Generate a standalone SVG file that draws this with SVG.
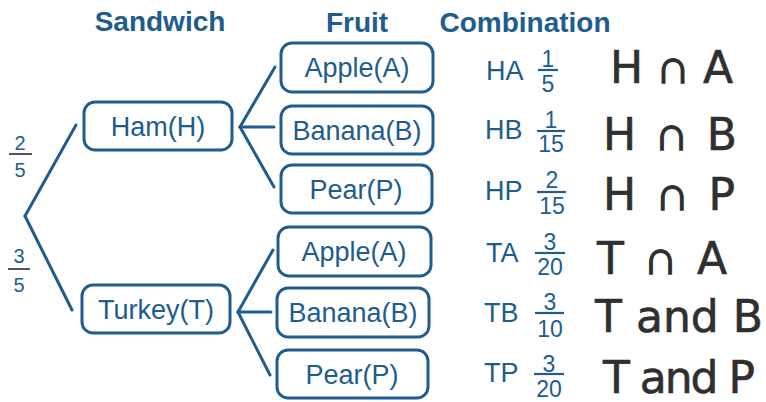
<svg xmlns="http://www.w3.org/2000/svg" width="766" height="402" viewBox="0 0 766 402">
  <style>
    .head { font-family: "Liberation Sans", Arial, sans-serif; font-weight: bold; font-size: 28px; fill: #215c8e; text-anchor: middle; }
    .box rect { fill: #ffffff; stroke: #215c8e; stroke-width: 3; }
    .box text { font-family: "Liberation Sans", Arial, sans-serif; font-size: 27px; fill: #215c8e; text-anchor: middle; }
    .conn line { stroke: #215c8e; stroke-width: 3; stroke-linecap: round; }
    .lbl { font-family: "Liberation Sans", Arial, sans-serif; font-size: 27px; fill: #215c8e; }
    .num { font-family: "Liberation Sans", Arial, sans-serif; font-size: 23px; fill: #215c8e; text-anchor: middle; }
    .bar { stroke: #215c8e; stroke-width: 2.2; }
    .pnum { font-family: "Liberation Sans", Arial, sans-serif; font-size: 20px; fill: #215c8e; text-anchor: middle; }
    .pbar { stroke: #555555; stroke-width: 2; }
    .hand { font-family: "DejaVu Sans", sans-serif; font-size: 44px; fill: #2f2f2f; stroke: #2f2f2f; stroke-width: 0.6; }
    .cap { font-family: "Liberation Sans", "DejaVu Sans", sans-serif; font-size: 48px; stroke-width: 1.4; }
  </style>

  <!-- column headings -->
  <text class="head" x="160" y="31">Sandwich</text>
  <text class="head" x="357" y="32">Fruit</text>
  <text class="head" x="525" y="32">Combination</text>

  <!-- branches -->
  <g id="connectors" class="conn">
    <line x1="25" y1="216" x2="76" y2="125"/>
    <line x1="25" y1="216" x2="72" y2="310"/>
    <line x1="240" y1="127" x2="275" y2="67"/>
    <line x1="240" y1="127" x2="274" y2="127"/>
    <line x1="240" y1="127" x2="274" y2="187"/>
    <line x1="238" y1="312" x2="273" y2="250"/>
    <line x1="238" y1="312" x2="271" y2="312"/>
    <line x1="238" y1="312" x2="270" y2="375"/>
  </g>

  <!-- first-stage probabilities -->
  <g id="p-ham">
    <text class="pnum" x="20" y="150">2</text>
    <line class="pbar" x1="9" y1="154" x2="32" y2="154"/>
    <text class="pnum" x="20" y="177">5</text>
  </g>
  <g id="p-turkey">
    <text class="pnum" x="19" y="263">3</text>
    <line class="pbar" x1="8" y1="269" x2="30" y2="269"/>
    <text class="pnum" x="19" y="292">5</text>
  </g>

  <!-- sandwich nodes -->
  <g id="ham" class="box">
    <rect x="84" y="102" width="148" height="48" rx="11"/>
    <text x="158" y="136">Ham(H)</text>
  </g>
  <g id="turkey" class="box">
    <rect x="82" y="285" width="148" height="48" rx="11"/>
    <text x="156" y="319">Turkey(T)</text>
  </g>

  <!-- fruit nodes -->
  <g id="ham-apple" class="box">
    <rect x="281" y="43" width="152" height="49" rx="11"/>
    <text x="357" y="77">Apple(A)</text>
  </g>
  <g id="ham-banana" class="box">
    <rect x="281" y="106" width="152" height="48" rx="11"/>
    <text x="357" y="140">Banana(B)</text>
  </g>
  <g id="ham-pear" class="box">
    <rect x="281" y="165" width="151" height="48" rx="11"/>
    <text x="356" y="199">Pear(P)</text>
  </g>
  <g id="turkey-apple" class="box">
    <rect x="278" y="227" width="153" height="49" rx="11"/>
    <text x="354" y="261">Apple(A)</text>
  </g>
  <g id="turkey-banana" class="box">
    <rect x="277" y="288" width="152" height="49" rx="11"/>
    <text x="353" y="322">Banana(B)</text>
  </g>
  <g id="turkey-pear" class="box">
    <rect x="277" y="350" width="151" height="48" rx="11"/>
    <text x="352" y="384">Pear(P)</text>
  </g>

  <!-- combinations with their probabilities -->
  <g id="combo-ha">
    <text class="lbl" x="486" y="80">HA</text>
    <text class="num" x="548" y="67">1</text>
    <line class="bar" x1="538" y1="70" x2="558" y2="70"/>
    <text class="num" x="548" y="92">5</text>
  </g>
  <g id="combo-hb">
    <text class="lbl" x="485" y="139">HB</text>
    <text class="num" x="551" y="128">1</text>
    <line class="bar" x1="537" y1="131" x2="565" y2="131"/>
    <text class="num" x="551" y="152">15</text>
  </g>
  <g id="combo-hp">
    <text class="lbl" x="485" y="200">HP</text>
    <text class="num" x="552" y="188">2</text>
    <line class="bar" x1="537" y1="192" x2="566" y2="192"/>
    <text class="num" x="552" y="214">15</text>
  </g>
  <g id="combo-ta">
    <text class="lbl" x="486" y="262">TA</text>
    <text class="num" x="550" y="250">3</text>
    <line class="bar" x1="535" y1="253" x2="565" y2="253"/>
    <text class="num" x="550" y="275">20</text>
  </g>
  <g id="combo-tb">
    <text class="lbl" x="484" y="322">TB</text>
    <text class="num" x="550" y="310">3</text>
    <line class="bar" x1="535" y1="313" x2="564" y2="313"/>
    <text class="num" x="550" y="337">10</text>
  </g>
  <g id="combo-tp">
    <text class="lbl" x="484" y="382">TP</text>
    <text class="num" x="549" y="372">3</text>
    <line class="bar" x1="534" y1="374" x2="564" y2="374"/>
    <text class="num" x="549" y="397">20</text>
  </g>

  <!-- handwritten notation -->
  <g id="notes">
    <text class="hand" x="610" y="83" textLength="123" lengthAdjust="spacing">H<tspan class="cap">∩</tspan>A</text>
    <text class="hand" x="603" y="150" textLength="134" lengthAdjust="spacing">H<tspan class="cap">∩</tspan>B</text>
    <text class="hand" x="603" y="210" textLength="132" lengthAdjust="spacing">H<tspan class="cap">∩</tspan>P</text>
    <text class="hand" x="597" y="274" textLength="130" lengthAdjust="spacing">T<tspan class="cap">∩</tspan>A</text>
    <text class="hand" x="595" y="332" textLength="168" lengthAdjust="spacing">T and B</text>
    <text class="hand" x="603" y="393" textLength="152" lengthAdjust="spacing">T and P</text>
  </g>
</svg>
